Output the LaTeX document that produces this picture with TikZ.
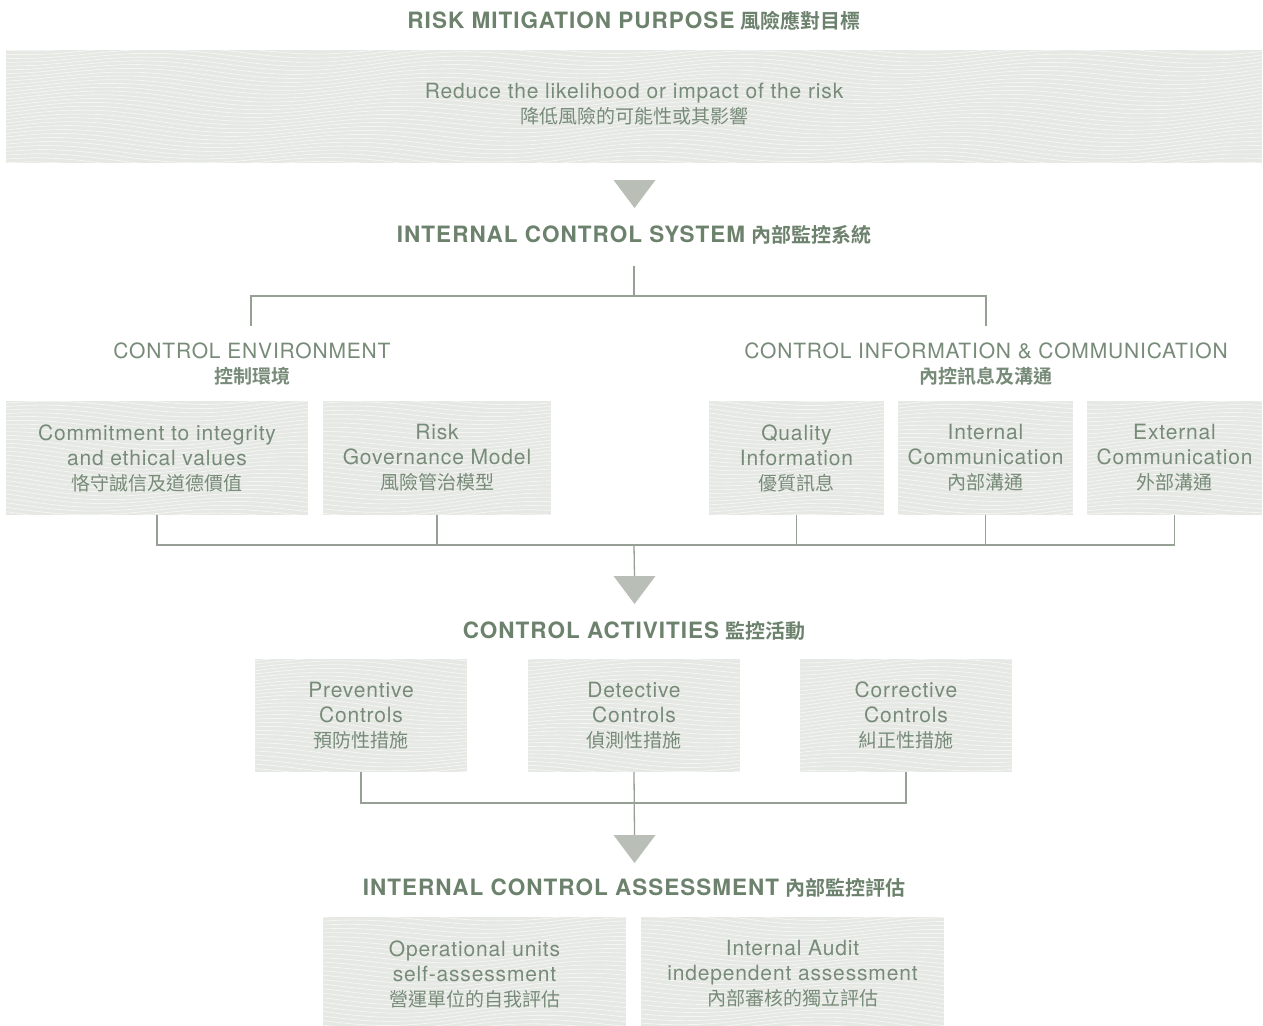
\documentclass[tikz,border=0pt]{standalone}
\usepackage{fontspec}
\newfontfamily\lat[LetterSpace=4]{TeX Gyre Heros}
\newfontfamily\headf[LetterSpace=4.5]{TeX Gyre Heros}
\newfontfamily\cjk[BoldFont={Noto Sans CJK TC Bold}]{Noto Sans CJK TC}
\definecolor{headgreen}{HTML}{6C826D}
\definecolor{bodygreen}{HTML}{778B78}
\definecolor{boxfill}{HTML}{E6E8E4}
\definecolor{linegrey}{HTML}{97A095}
\definecolor{trigrey}{HTML}{B9BEB6}
\tikzset{
  conn/.style={draw=linegrey, line width=1.3pt},
  tri/.style={fill=trigrey},
  wave/.style={draw=white, line width=0.8pt, opacity=0.6},
  boxtext/.style={align=center, text=bodygreen, inner sep=0pt, font=\lat\fontsize{21}{25}\selectfont},
  headtext/.style={text=headgreen, inner sep=0pt},
  subtext/.style={align=center, text=bodygreen, inner sep=0pt, font=\lat\fontsize{21}{25}\selectfont},
}
\newcommand\zh[1]{{\cjk\fontsize{19}{25}\selectfont #1}}
\newcommand\zhb[1]{{\cjk\bfseries\fontsize{19}{25}\selectfont #1}}
\newcommand\hd[2]{{\headf\bfseries\fontsize{22.5}{25}\selectfont #1}\hspace{6pt}{\cjk\bfseries\fontsize{20}{25}\selectfont #2}}
% texture box: name x1 y1 x2 y2 text
\newcommand\wbox[6]{%
  \begin{scope}
    \clip (#2,#3) rectangle (#4,#5);
    \fill[boxfill] (#2,#3) rectangle (#4,#5);
    \pgfmathsetmacro\wya{#3-16}
    \pgfmathsetmacro\wyb{#3-12}
    \pgfmathsetmacro\wyc{#5+16}
    \foreach \yy in {\wya,\wyb,...,\wyc}{
      \draw[wave] plot[domain=#2:#4, samples=40, smooth] (\x, {\yy + 6*sin(\x*1.2 + \yy*1.4) + 2.5*sin(\x*0.5 - \yy*0.8)});
    }
  \end{scope}
  \pgfmathsetmacro\wcx{(#2+#4)/2}
  \pgfmathsetmacro\wcy{(#3+#5)/2}
  \pgfmathsetmacro\wwd{#4-#2}
  \pgfmathsetmacro\wht{#5-#3}
  \node[boxtext, minimum width=\wwd pt, minimum height=\wht pt] (#1) at (\wcx,\wcy) {#6};
}
\begin{document}
\begin{tikzpicture}[x=1pt,y=-1pt]
\useasboundingbox[fill=white] (0,0) rectangle (1263,1025);

% ---- Level 1
\node[headtext] (h1) at (634,21) {\hd{RISK MITIGATION PURPOSE}{風險應對目標}};
\wbox{top}{6}{50}{1262}{163}{}
\node[boxtext] (toptext) at (634,104) {Reduce the likelihood or impact of the risk\\\zh{降低風險的可能性或其影響}};

\coordinate (tri1) at (634.5,180);
\fill[tri] (tri1) ++(-21,0) -- ++(42,0) -- ++(-21,28) -- cycle;

% ---- Level 2
\node[headtext] (h2) at (634,235) {\hd{INTERNAL CONTROL SYSTEM}{內部監控系統}};
\coordinate (s2) at (634,266);
\coordinate (j1) at (634,296);
\node[subtext] (ce) at (252,364) {CONTROL ENVIRONMENT\\\zhb{控制環境}};
\node[subtext] (ci) at (986,364) {CONTROL INFORMATION \& COMMUNICATION\\\zhb{內控訊息及溝通}};
\coordinate (ceT) at (251,326);
\coordinate (ciT) at (986,326);
\draw[conn] (s2) -- (j1);
\draw[conn] (ceT) |- (j1) -| (ciT);

\wbox{b1}{6}{401}{308}{515}{Commitment to integrity\\and ethical values\\\zh{恪守誠信及道德價值}}
\wbox{b2}{323}{401}{551}{515}{Risk\\Governance Model\\\zh{風險管治模型}}
\wbox{b3}{709}{401}{884}{515}{Quality\\Information\\\zh{優質訊息}}
\wbox{b4}{898}{401}{1073}{515}{Internal\\Communication\\\zh{內部溝通}}
\wbox{b5}{1087}{401}{1262}{515}{External\\Communication\\\zh{外部溝通}}

\coordinate (j2) at (634,545);
\coordinate (tri2) at (634.5,576);
\draw[conn] (b1.south) |- (j2);
\draw[conn] (b2.south) -- (b2.south |- j2);
\draw[conn] (b3.south) -- (b3.south |- j2);
\draw[conn] (b4.south) -- (b4.south |- j2);
\draw[conn] (b5.south) |- (j2);
\draw[conn] (j2) -- (tri2);
\fill[tri] (tri2) ++(-21,0) -- ++(42,0) -- ++(-21,28) -- cycle;

% ---- Level 3
\node[headtext] (h3) at (634,631) {\hd{CONTROL ACTIVITIES}{監控活動}};
\wbox{c1}{255}{659}{467}{772}{Preventive\\Controls\\\zh{預防性措施}}
\wbox{c2}{528}{659}{740}{772}{Detective\\Controls\\\zh{偵測性措施}}
\wbox{c3}{800}{659}{1012}{772}{Corrective\\Controls\\\zh{糾正性措施}}

\coordinate (j3) at (634,803);
\coordinate (tri3) at (634.5,835);
\draw[conn] (c1.south) |- (j3) -| (c3.south);
\draw[conn] (c2.south) -- (tri3);
\fill[tri] (tri3) ++(-21,0) -- ++(42,0) -- ++(-21,28) -- cycle;

% ---- Level 4
\node[headtext] (h4) at (634,888) {\hd{INTERNAL CONTROL ASSESSMENT}{內部監控評估}};
\wbox{d1}{323}{917}{626}{1031}{Operational units\\self-assessment\\\zh{營運單位的自我評估}}
\wbox{d2}{641}{917}{944}{1031}{Internal Audit\\independent assessment\\\zh{內部審核的獨立評估}}
\end{tikzpicture}
\end{document}
